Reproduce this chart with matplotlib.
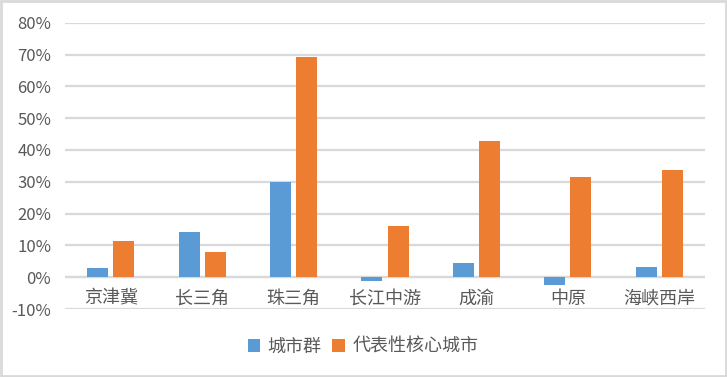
import matplotlib
matplotlib.use("Agg")
import matplotlib.pyplot as plt
from matplotlib.patches import Rectangle
from matplotlib.ticker import FuncFormatter
import numpy as np

plt.rcParams['font.family'] = ['Noto Sans CJK SC', 'DejaVu Sans']

categories = ['京津冀', '长三角', '珠三角', '长江中游', '成渝', '中原', '海峡西岸']
series_names = ['城市群', '代表性核心城市']
cluster_vals = [2.9, 14.2, 29.9, -1.1, 4.4, -2.5, 3.2]
core_vals = [11.3, 7.9, 69.2, 16.1, 42.8, 31.5, 33.7]
yticks = [-10, 0, 10, 20, 30, 40, 50, 60, 70, 80]

blue = '#5B9BD5'
orange = '#ED7D31'
txt = '#595959'
grid = '#D9D9D9'

fig = plt.figure(figsize=(7.27, 3.77), dpi=100)
ax = fig.add_axes([65/727, 1-309/377, 640/727, (309-22.7)/377])

x = np.arange(len(categories))
w = 0.23
gap = 0.055
ax.bar(x - (w+gap)/2, cluster_vals, w, color=blue, label=series_names[0], zorder=3)
ax.bar(x + (w+gap)/2, core_vals, w, color=orange, label=series_names[1], zorder=3)

ax.set_xlim(-0.5, len(categories)-0.5)
ax.set_ylim(-10, 80)
ax.set_yticks(yticks)
ax.yaxis.set_major_formatter(FuncFormatter(lambda v, p: f'{int(v)}%'))
ax.yaxis.grid(True, color=grid, linewidth=1.6, zorder=0)
ax.tick_params(axis='y', length=0, pad=10, labelsize=12, labelcolor=txt)
ax.set_xticks([])
for s in ax.spines.values():
    s.set_visible(False)
ax.axhline(0, color=grid, linewidth=1.6, zorder=2)

for i, c in enumerate(categories):
    ax.text(i, -6.7, c, ha='center', va='center', fontsize=13, color=txt,
            transform=ax.transData)

leg = fig.legend(loc='center', bbox_to_anchor=(363/727, 1-347/377), ncol=2,
                 frameon=False, fontsize=13, handlelength=0.7, handleheight=0.7,
                 handletextpad=0.4, columnspacing=0.6, labelcolor=txt)

fig.patches.append(Rectangle((1/727, 1/377), 725/727, 375/377, transform=fig.transFigure,
                             fill=False, edgecolor=grid, linewidth=2))

fig.savefig('out.png', dpi=100)
